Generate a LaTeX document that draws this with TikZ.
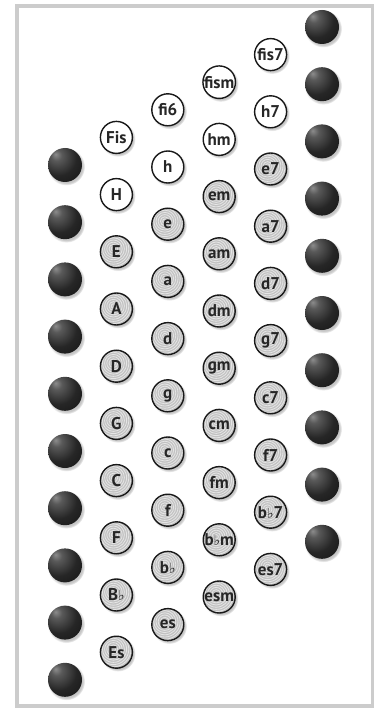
\documentclass[tikz,border=0pt]{standalone}
\usepackage{fontspec}
\setmainfont{PT Sans}
\newfontfamily\symfont{DejaVu Sans}
\usepackage{tikz}
\usetikzlibrary{shadows}
\newcommand{\flatsym}{{\symfont\fontsize{14}{14}\selectfont ♭}}
\pgfdeclareradialshading{darkball}{\pgfpoint{-14bp}{16bp}}{%
  color(0bp)=(black!45); color(8bp)=(black!65); color(26bp)=(black!85);
  color(50bp)=(black!93); color(80bp)=(black)}

\begin{document}
\begin{tikzpicture}[
  x=1pt, y=-1pt,
  font=\bfseries\fontsize{17}{18}\selectfont,
  frame/.style={draw=gray!40, line width=3.5pt},
  bass/.style={circle, minimum size=34pt, inner sep=0pt, shading=darkball,
    circular drop shadow={shadow xshift=1.2pt, shadow yshift=-1.6pt, opacity=0.45}},
  chord/.style={circle, draw=black!90, line width=1.4pt, minimum size=32pt,
    inner sep=0pt, text=black!85, fill=white,
    circular drop shadow={shadow xshift=1.4pt, shadow yshift=-1.6pt, opacity=0.45}},
  ringed/.style={chord, fill=gray!48,
    path picture={\foreach \r in {2.2,4.4,...,24}{
      \draw[gray!20, line width=0.8pt]
        ([shift={(-3pt,3pt)}]path picture bounding box.center) circle[radius=\r pt];}}}
]
\useasboundingbox (0,0) rectangle (377,708);
\fill[white] (0,0) rectangle (377,708);
\draw[frame] (17,6) rectangle (372.5,706);

% bass balls, left row
\node[bass] (left1) at (65,165) {};
\node[bass] (left2) at (65,222.2) {};
\node[bass] (left3) at (65,279.4) {};
\node[bass] (left4) at (65,336.6) {};
\node[bass] (left5) at (65,393.8) {};
\node[bass] (left6) at (65,451) {};
\node[bass] (left7) at (65,508.2) {};
\node[bass] (left8) at (65,565.4) {};
\node[bass] (left9) at (65,622.6) {};
\node[bass] (left10) at (65,679.8) {};

% bass notes
\node[chord] (Fis) at (116.4,137.4) {Fis};
\node[chord] (H) at (116.4,194.6) {H};
\node[ringed] (E) at (116.4,251.8) {E};
\node[ringed] (A) at (116.4,309) {A};
\node[ringed] (D) at (116.4,366.2) {D};
\node[ringed] (G) at (116.4,423.4) {G};
\node[ringed] (C) at (116.4,480.6) {C};
\node[ringed] (F) at (116.4,537.8) {F};
\node[ringed] (Bflat) at (116.4,595) {B\flatsym};
\node[ringed] (Es) at (116.4,652.2) {Es};

% major chords
\node[chord] (fi6) at (167.8,109.8) {fi6};
\node[chord] (h) at (167.8,167) {h};
\node[ringed] (e) at (167.8,224.2) {e};
\node[ringed] (a) at (167.8,281.4) {a};
\node[ringed] (d) at (167.8,338.6) {d};
\node[ringed] (g) at (167.8,395.8) {g};
\node[ringed] (c) at (167.8,453) {c};
\node[ringed] (f) at (167.8,510.2) {f};
\node[ringed] (bflat) at (167.8,567.4) {b\flatsym};
\node[ringed] (es) at (167.8,624.6) {es};

% minor chords
\node[chord] (fism) at (219.2,82.2) {fism};
\node[chord] (hm) at (219.2,139.4) {hm};
\node[ringed] (em) at (219.2,196.6) {em};
\node[ringed] (am) at (219.2,253.8) {am};
\node[ringed] (dm) at (219.2,311) {dm};
\node[ringed] (gm) at (219.2,368.2) {gm};
\node[ringed] (cm) at (219.2,425.4) {cm};
\node[ringed] (fm) at (219.2,482.6) {fm};
\node[ringed] (bflatm) at (219.2,539.8) {b\flatsym m};
\node[ringed] (esm) at (219.2,597) {esm};

% seventh chords
\node[chord] (fis7) at (270.6,54.6) {fis7};
\node[chord] (h7) at (270.6,111.8) {h7};
\node[ringed] (e7) at (270.6,169) {e7};
\node[ringed] (a7) at (270.6,226.2) {a7};
\node[ringed] (d7) at (270.6,283.4) {d7};
\node[ringed] (g7) at (270.6,340.6) {g7};
\node[ringed] (c7) at (270.6,397.8) {c7};
\node[ringed] (f7) at (270.6,455) {f7};
\node[ringed] (bflat7) at (270.6,512.2) {b\flatsym 7};
\node[ringed] (es7) at (270.6,569.4) {es7};

% bass balls, right row
\node[bass] (right1) at (322,27) {};
\node[bass] (right2) at (322,84.2) {};
\node[bass] (right3) at (322,141.4) {};
\node[bass] (right4) at (322,198.6) {};
\node[bass] (right5) at (322,255.8) {};
\node[bass] (right6) at (322,313) {};
\node[bass] (right7) at (322,370.2) {};
\node[bass] (right8) at (322,427.4) {};
\node[bass] (right9) at (322,484.6) {};
\node[bass] (right10) at (322,541.8) {};
\end{tikzpicture}
\end{document}
